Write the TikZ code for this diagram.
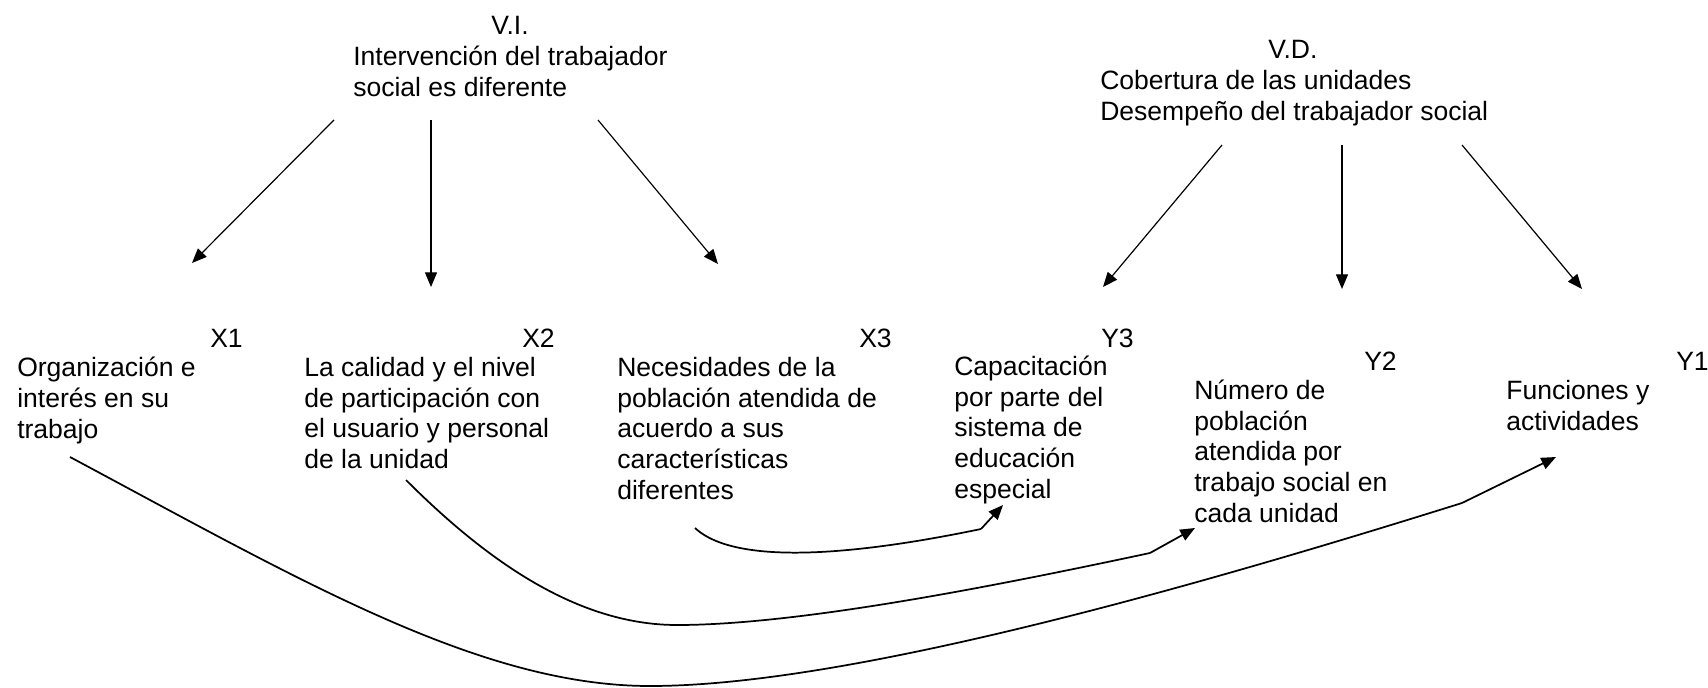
\documentclass[tikz,border=0pt]{standalone}
\usepackage{fontspec}
\setmainfont{Liberation Sans}
\usetikzlibrary{arrows.meta}
\begin{document}
\begin{tikzpicture}[x=0.75pt,y=-0.75pt,
  txt/.style={anchor=base west,inner sep=0pt,align=left,font=\fontsize{19.9pt}{22.9pt}\selectfont},
  conn/.style={line width=0.9pt,-{Triangle[length=11pt,width=9pt]}},
  curv/.style={line width=1.3pt},
  curvtip/.style={line width=1.3pt,-{Triangle[length=11pt,width=9pt]}}]
\useasboundingbox (0,0) rectangle (1708,688);

% top variable blocks (anchor = baseline of the last line)
\node[txt] (vilbl) at (491,35) {V.I.};
\node[txt] (vi) at (353,96.5) {Intervención del trabajador\\social es diferente};
\node[txt] (vdlbl) at (1268,59) {V.D.};
\node[txt] (vd) at (1100,120.5) {Cobertura de las unidades\\Desempeño del trabajador social};

% indicator labels
\node[txt] (x1lbl) at (210,347) {X1};
\node[txt] (x1) at (17,438) {Organización e\\interés en su\\trabajo};
\node[txt] (x2lbl) at (522,347) {X2};
\node[txt] (x2) at (304,468.5) {La calidad y el nivel\\de participación con\\el usuario y personal\\de la unidad};
\node[txt] (x3lbl) at (859,347) {X3};
\node[txt] (x3) at (617,499) {Necesidades de la\\población atendida de\\acuerdo a sus\\características\\diferentes};
\node[txt] (y3lbl) at (1101,347) {Y3};
\node[txt] (y3) at (954,498) {Capacitación\\por parte del\\sistema de\\educación\\especial};
\node[txt] (y2lbl) at (1364,370) {Y2};
\node[txt] (y2) at (1194,522) {Número de\\población\\atendida por\\trabajo social en\\cada unidad};
\node[txt] (y1lbl) at (1676,370) {Y1};
\node[txt] (y1) at (1506,430.5) {Funciones y\\actividades};

% connector end points
\coordinate (viA) at (334,120); \coordinate (viAe) at (192,263);
\coordinate (viB) at (431,120); \coordinate (viBe) at (431,287);
\coordinate (viC) at (598,120); \coordinate (viCe) at (718,264);
\coordinate (vdA) at (1222,145); \coordinate (vdAe) at (1103,287);
\coordinate (vdB) at (1342,145); \coordinate (vdBe) at (1342,289);
\coordinate (vdC) at (1462,145); \coordinate (vdCe) at (1582,289);

\draw[conn] (viA) -- (viAe);
\draw[conn] (viB) -- (viBe);
\draw[conn] (viC) -- (viCe);
\draw[conn] (vdA) -- (vdAe);
\draw[conn] (vdB) -- (vdBe);
\draw[conn] (vdC) -- (vdCe);

% curved links
\coordinate (c1s) at (70,457); \coordinate (c1m) at (650,686);
\coordinate (c1k) at (1462,503); \coordinate (c1e) at (1556,457);
\draw[curv] (c1s) .. controls (300,580) and (480,686) .. (c1m)
  .. controls (850,686) and (1200,585) .. (c1k);
\draw[curvtip] (c1k) -- (c1e);

\coordinate (c2s) at (406,480); \coordinate (c2m) at (677,625);
\coordinate (c2k) at (1150,553); \coordinate (c2e) at (1195,528);
\draw[curv] (c2s) .. controls (486,560) and (577,625) .. (c2m)
  .. controls (800,625) and (1000,585) .. (c2k);
\draw[curvtip] (c2k) -- (c2e);

\coordinate (c3s) at (695,528);
\coordinate (c3k) at (981,529); \coordinate (c3e) at (1003,505);
\draw[curv] (c3s) .. controls (740,570) and (880,550) .. (c3k);
\draw[curvtip] (c3k) -- (c3e);
\end{tikzpicture}
\end{document}
